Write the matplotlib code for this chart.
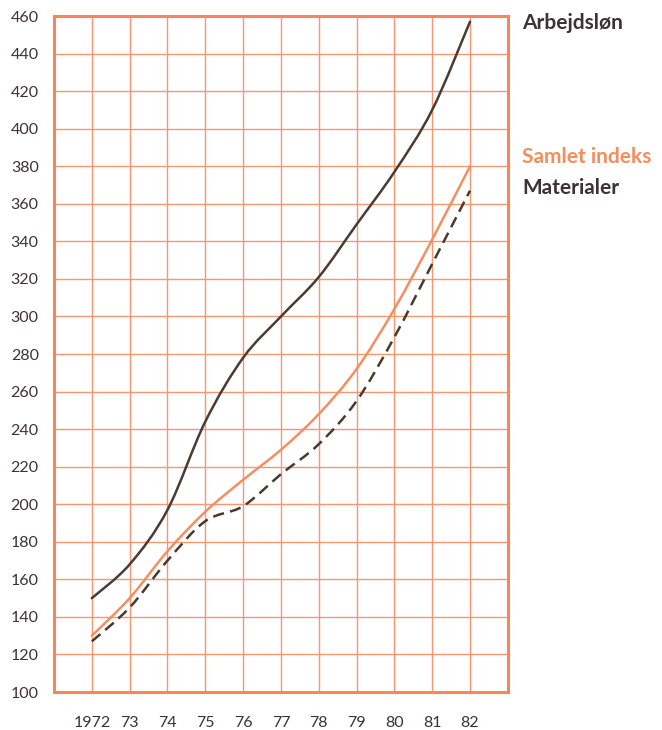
import numpy as np
import matplotlib.pyplot as plt
from matplotlib.path import Path
from matplotlib.patches import PathPatch

years = [1972, 1973, 1974, 1975, 1976, 1977, 1978, 1979, 1980, 1981, 1982]
year_labels = ['1972', '73', '74', '75', '76', '77', '78', '79', '80', '81', '82']

arbejdslon = [150, 168, 197, 244, 278, 300, 321, 349, 377, 410, 457]
samlet = [130, 150, 175, 196, 213, 229, 248, 272, 304, 341, 380]
materialer = [127, 145, 170, 191, 199, 216, 232, 255, 289, 328, 367]

orange = '#f7875a'
grid_orange = '#f89670'
dark = '#3d3236'


def smooth_path(x, y):
    # catmull-rom through the data points, drawn as cubic bezier segments
    x = np.asarray(x, float)
    y = np.asarray(y, float)
    pts = np.column_stack([x, y])
    verts = [pts[0]]
    codes = [Path.MOVETO]
    n = len(pts)
    for i in range(n - 1):
        p0 = pts[max(i - 1, 0)]
        p1 = pts[i]
        p2 = pts[i + 1]
        p3 = pts[min(i + 2, n - 1)]
        c1 = p1 + (p2 - p0) / 6.0
        c2 = p2 - (p3 - p1) / 6.0
        verts += [c1, c2, p2]
        codes += [Path.CURVE4] * 3
    return Path(verts, codes)


plt.rcParams['font.family'] = ['Lato', 'DejaVu Sans']

fig = plt.figure(figsize=(6.62, 7.30), dpi=100)
ax = fig.add_axes([0.0816, 0.052, 0.6855, 0.926])

ax.add_patch(PathPatch(smooth_path(years, arbejdslon), facecolor='none',
                       edgecolor='#4a3b33', linewidth=1.8, capstyle='round'))
ax.add_patch(PathPatch(smooth_path(years, samlet), facecolor='none',
                       edgecolor='#f48f62', linewidth=1.8, capstyle='round'))
ax.add_patch(PathPatch(smooth_path(years, materialer), facecolor='none',
                       edgecolor='#4a3a2e', linewidth=1.8, linestyle=(0, (4.5, 2.5))))

ax.set_xlim(1971, 1983)
ax.set_ylim(100, 460)
ax.set_xticks(years)
ax.set_xticklabels(year_labels)
ax.set_xticks(np.arange(1971, 1984), minor=True)
ax.set_yticks(np.arange(100, 461, 20))

ax.grid(True, which='both', color=grid_orange, linewidth=1.0)
ax.set_axisbelow(True)
for s in ax.spines.values():
    s.set_color(orange)
    s.set_linewidth(2.2)

ax.tick_params(which='both', length=0)
ax.tick_params(axis='x', pad=17, labelsize=11.5, labelcolor=dark)
ax.tick_params(axis='y', pad=11, labelsize=11.5, labelcolor=dark)

fig.text(0.789, 0.968, 'Arbejdsløn', color=dark, fontsize=15, fontweight='bold', va='center')
fig.text(0.788, 0.785, 'Samlet indeks', color='#f78c5c', fontsize=15, fontweight='bold', va='center')
fig.text(0.789, 0.743, 'Materialer', color=dark, fontsize=15, fontweight='bold', va='center')

fig.savefig('out.png', dpi=100, facecolor='white')
